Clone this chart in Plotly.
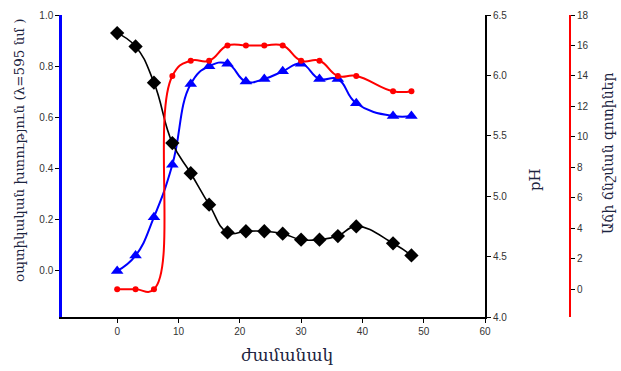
import plotly.graph_objects as go

# Data
time_h = [0, 3, 6, 9, 12, 15, 18, 21, 24, 27, 30, 33, 36, 39, 45, 48]
ph_values = [6.35, 6.24, 5.94, 5.44, 5.19, 4.93, 4.70, 4.71, 4.71, 4.69, 4.64, 4.64, 4.67, 4.75, 4.61, 4.51]
od_values = [0.00, 0.06, 0.21, 0.415, 0.73, 0.80, 0.81, 0.74, 0.75, 0.78, 0.81, 0.75, 0.75, 0.655, 0.605, 0.605]
zone_values = [0.0, 0.0, 0.0, 14.0, 15.0, 15.0, 16.0, 16.0, 16.0, 16.0, 15.0, 15.0, 14.0, 14.0, 13.0, 13.0]

x_ticks = [0, 10, 20, 30, 40, 50, 60]
od_ticks = [0.0, 0.2, 0.4, 0.6, 0.8, 1.0]
ph_ticks = [4.0, 4.5, 5.0, 5.5, 6.0, 6.5]
zone_ticks = [0, 2, 4, 6, 8, 10, 12, 14, 16, 18]

x_title = "ժամանակ"
od_title = "օպտիկական խտություն (λ=595 նմ )"
ph_title = "pH"
zone_title = "Աճի ճնշման գոտիներ"

W, H = 621, 371
ml, mr, mt, mb = 62, 0, 15, 54
pw = W - ml - mr
ph_ = H - mt - mb
x_right = 485
red_axis_x = 570


def px_x(px):
    return (px - ml) / pw


def px_y(py):
    return (H - mb - py) / ph_


tick_font = dict(family="Liberation Sans, Arial", size=10, color="#333333")
title_color = "#1c2440"
title_family = "DejaVu Serif, DejaVu Sans"

fig = go.Figure()

fig.add_trace(go.Scatter(
    x=time_h, y=od_values, yaxis="y", mode="lines+markers",
    line=dict(color="#0000ff", width=2, shape="spline", smoothing=1.3),
    marker=dict(symbol="triangle-up", size=11, color="#0000ff"),
    showlegend=False))

fig.add_trace(go.Scatter(
    x=time_h, y=ph_values, yaxis="y2", mode="lines+markers",
    line=dict(color="#000000", width=1.6, shape="spline", smoothing=1.3),
    marker=dict(symbol="diamond", size=11, color="#000000"),
    showlegend=False))

fig.add_trace(go.Scatter(
    x=time_h, y=zone_values, yaxis="y3", mode="lines+markers",
    line=dict(color="#ff0000", width=2, shape="spline", smoothing=1.3),
    marker=dict(symbol="circle", size=6, color="#ff0000"),
    showlegend=False))

common_axis = dict(showgrid=False, zeroline=False, ticks="outside", ticklen=4,
                   tickcolor="black", tickfont=tick_font, automargin=False, showline=True)

fig.update_layout(
    width=W, height=H,
    margin=dict(l=ml, r=mr, t=mt, b=mb, autoexpand=False),
    paper_bgcolor="white", plot_bgcolor="white",
    xaxis=dict(domain=[0, px_x(x_right)], range=[-9, 60], tickvals=x_ticks,
               linecolor="black", linewidth=2, **common_axis),
    yaxis=dict(range=[-0.18, 1.0], tickvals=od_ticks, tickformat=".1f",
               linecolor="#0000ff", linewidth=2.5, **common_axis),
    yaxis2=dict(overlaying="y", side="right", anchor="x",
                range=[4.0, 6.5], tickvals=ph_ticks, tickformat=".1f",
                linecolor="black", linewidth=2, **common_axis),
    yaxis3=dict(overlaying="y", side="right", anchor="free", position=px_x(red_axis_x),
                range=[-1.82, 18], tickvals=zone_ticks,
                linecolor="#ff0000", linewidth=2, **common_axis),
)

titles = [
    (x_title, 287, 355, 0, 17),
    (od_title, 19, 150, -90, 13.5),
    (ph_title, 535, 180, -90, 15),
    (zone_title, 608, 154, -90, 14),
]
for text, tx, ty, ang, size in titles:
    fig.add_annotation(text=text, xref="paper", yref="paper", x=px_x(tx), y=px_y(ty),
                       xanchor="center", yanchor="middle", showarrow=False, textangle=ang,
                       font=dict(family=title_family, size=size, color=title_color))

fig.write_html("out.html")
